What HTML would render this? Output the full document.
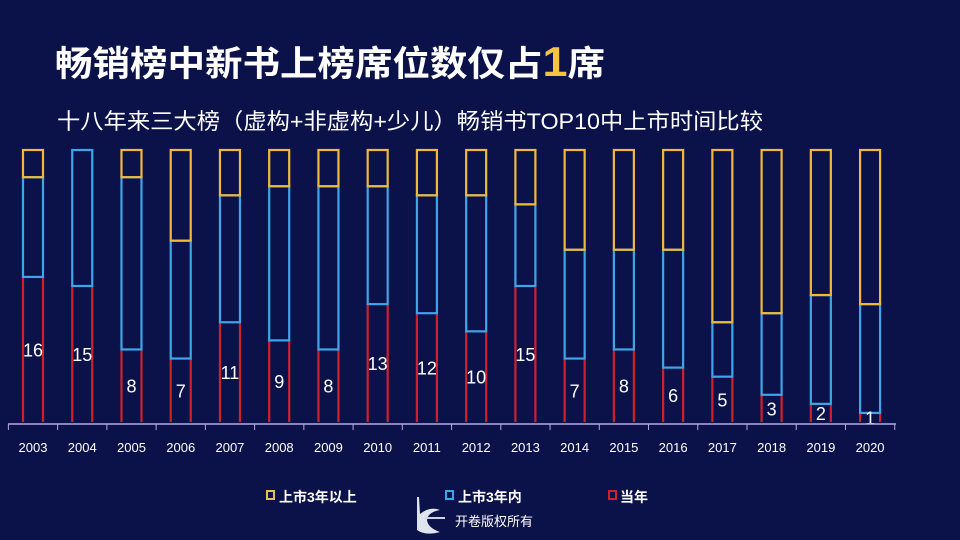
<!DOCTYPE html>
<html><head><meta charset="utf-8"><style>
html,body{margin:0;padding:0;width:960px;height:540px;overflow:hidden;background:#0a1148;}
svg{display:block}
text{font-family:"Liberation Sans","Noto Sans CJK SC",sans-serif;}
</style></head><body>
<svg id="c" width="960" height="540" xmlns="http://www.w3.org/2000/svg">
<rect width="960" height="540" fill="#0b1249"/>
<text x="55" y="76" fill="#fff" font-size="35" font-weight="bold" textLength="550" lengthAdjust="spacingAndGlyphs">畅销榜中新书上榜席位数仅占<tspan fill="#f5c242" font-size="42">1</tspan>席</text>
<text x="57" y="129" fill="#fff" font-size="22" textLength="706" lengthAdjust="spacingAndGlyphs">十八年来三大榜（虚构+非虚构+少儿）畅销书TOP10中上市时间比较</text>
<g id="bars"></g>
<g id="axis"></g>
<g>
<rect x="267" y="491" width="7" height="8" fill="none" stroke="#e8c04a" stroke-width="2"/>
<text x="279" y="502" fill="#fff" font-size="14" font-weight="bold">上市3年以上</text>
<rect x="446" y="491" width="7" height="8" fill="none" stroke="#3ea6e8" stroke-width="2"/>
<text x="458" y="502" fill="#fff" font-size="14" font-weight="bold">上市3年内</text>
<rect x="609" y="491" width="7" height="8" fill="none" stroke="#d0202e" stroke-width="2"/>
<text x="620" y="502" fill="#fff" font-size="14" font-weight="bold">当年</text>
</g>
<g>
<path d="M417 497 L417 530 Q425 536 440 532 Q428 528 427 520 Q428 512 440 510 Q430 506 420 514 L419 497Z" fill="#dfe3ee"/>
<rect x="425" y="517" width="20" height="2" fill="#cfd4e4"/>
</g>
<text x="455" y="526" fill="#fff" font-size="13">开卷版权所有</text>
</svg>
<script>
const years=["2003","2004","2005","2006","2007","2008","2009","2010","2011","2012","2013","2014","2015","2016","2017","2018","2019","2020"];
const current=[16,15,8,7,11,9,8,13,12,10,15,7,8,6,5,3,2,1];
const within3=[11,15,19,13,14,17,18,13,13,15,9,12,11,13,6,9,12,12];
const over3=[3,0,3,10,5,4,4,4,5,5,6,11,11,11,19,18,16,17];
const NS="http://www.w3.org/2000/svg";
const base=422, top0=150, maxV=30;
const y=v=>base-(v/maxV)*(base-top0);
const xc=i=>33+i*49.24;
const bw=20;
function mk(tag,attrs,parent){const e=document.createElementNS(NS,tag);for(const k in attrs)e.setAttribute(k,attrs[k]);parent.appendChild(e);return e;}
const g=document.getElementById('bars'), ax=document.getElementById('axis');
years.forEach((yr,i)=>{
  const x0=xc(i)-bw/2;
  const c=current[i], w=within3[i], o=over3[i];
  const r1=mk('path',{d:`M${x0} ${base} L${x0} ${y(c)} M${x0+bw} ${y(c)} L${x0+bw} ${base}`,stroke:'#d0202e','stroke-width':2.2,fill:'none'},g);
  
  
  if(w>0){const r2=mk('rect',{x:x0,y:y(c+w),width:bw,height:y(c)-y(c+w),fill:'none',stroke:'#3ea6e8','stroke-width':2.2},g);
  
  }
  if(o>0){const r3=mk('rect',{x:x0,y:y(c+w+o),width:bw,height:y(c+w)-y(c+w+o),fill:'none',stroke:'#f0b93c','stroke-width':2.2},g);
  
  }
  const t=mk('text',{x:xc(i),y:(y(c)+base)/2+7,fill:'#fff','font-size':18,'text-anchor':'middle'},g);
  t.textContent=c;
  
  
  const tl=mk('text',{x:xc(i),y:452,fill:'#fff','font-size':13,'text-anchor':'middle'},ax);
  tl.textContent=yr;
  
  
});
const al=mk('line',{x1:8,x2:896,y1:424,y2:424,stroke:'#b9a6e6','stroke-width':1.5},ax);


for(let i=0;i<=years.length;i++){
  const tk=mk('line',{x1:xc(i)-24.6,x2:xc(i)-24.6,y1:424,y2:430,stroke:'#b9a6e6','stroke-width':1},ax);
  
  
}
</script>
</body></html>
